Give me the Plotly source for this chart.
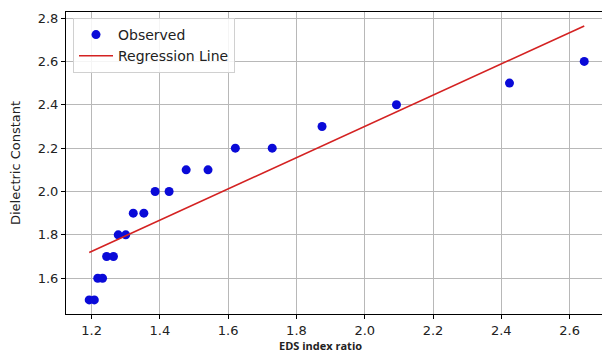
import numpy as np
import plotly.graph_objects as go

eds_ratio = [1.193, 1.208, 1.218, 1.232, 1.244, 1.264, 1.278, 1.300, 1.322, 1.353,
             1.386, 1.427, 1.477, 1.541, 1.621, 1.729, 1.875, 2.093, 2.424, 2.643]
dielectric = [1.5, 1.5, 1.6, 1.6, 1.7, 1.7, 1.8, 1.8, 1.9, 1.9,
              2.0, 2.0, 2.1, 2.1, 2.2, 2.2, 2.3, 2.4, 2.5, 2.6]

slope, intercept = np.polyfit(eds_ratio, dielectric, 1)
line_x = [min(eds_ratio), max(eds_ratio)]
line_y = [slope * v + intercept for v in line_x]

fig = go.Figure()
fig.add_trace(go.Scatter(
    x=eds_ratio, y=dielectric, mode="markers", name="Observed",
    marker=dict(color="#0a0ad8", size=9, line=dict(width=0)),
))
fig.add_trace(go.Scatter(
    x=line_x, y=line_y, mode="lines", name="Regression Line",
    line=dict(color="#d42222", width=1.6),
))

axis_common = dict(
    showgrid=True, gridcolor="#b8b8b8", gridwidth=1,
    showline=True, linecolor="black", linewidth=1, mirror=True,
    ticks="outside", ticklen=4, tickcolor="black", tickwidth=1,
    tickfont=dict(family="DejaVu Sans", size=13, color="#222222"),
    zeroline=False, tickformat=".1f", dtick=0.2,
)

plot_w = 602 - 66
plot_h = 354 - 12 - 40

fig.update_layout(
    width=602, height=354,
    margin=dict(l=66, r=0, t=12, b=40),
    paper_bgcolor="white", plot_bgcolor="white",
    xaxis=dict(range=[1.125, 2.695], tick0=1.2, **axis_common),
    yaxis=dict(range=[1.435, 2.828], tick0=1.6, **axis_common),
    showlegend=True,
    legend=dict(
        x=(73 - 66) / plot_w, y=(314 - 18) / plot_h, xanchor="left", yanchor="top",
        bgcolor="rgba(255,255,255,0.85)", bordercolor="#d0d0d0", borderwidth=1,
        font=dict(family="DejaVu Sans", size=14, color="#222222"),
        tracegroupgap=0, itemwidth=34,
    ),
    annotations=[
        dict(text="Dielectric Constant", showarrow=False, textangle=-90,
             xref="paper", yref="paper",
             x=(15 - 66) / plot_w, y=(314 - 163) / plot_h,
             xanchor="center", yanchor="middle",
             font=dict(family="DejaVu Sans", size=13, color="#222222")),
        dict(text="<b>EDS index ratio</b>", showarrow=False,
             xref="paper", yref="paper",
             x=(320 - 66) / plot_w, y=(314 - 345) / plot_h,
             xanchor="center", yanchor="middle",
             font=dict(family="Open Sans", size=11, color="#222222")),
    ],
)

fig.write_html("out.html")
